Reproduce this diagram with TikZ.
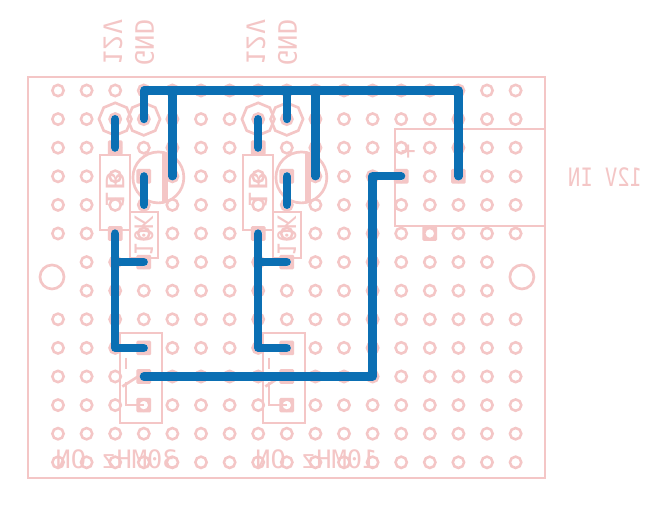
\documentclass[tikz,border=0pt]{standalone}
\usepackage{fontspec}
\setmainfont{DejaVu Sans Mono}
\usetikzlibrary{shapes.geometric}

\definecolor{silk}{HTML}{F4C6C6}
\definecolor{copper}{HTML}{0B6FB3}

\tikzset{
  silkline/.style={draw=silk, line width=2pt},
  hole/.style={circle, draw=silk, line width=1.9pt, fill=white, minimum size=8.5pt, inner sep=0pt},
  pad/.style={rectangle, rounded corners=1pt, fill=silk, minimum size=11pt, inner sep=0pt},
  octpad/.style={regular polygon, regular polygon sides=8, shape border rotate=22.5, draw=silk, line width=2pt, minimum size=24.4pt, inner sep=0pt},
  wire/.style={draw=copper, line width=6.2pt, line cap=round, line join=round},
  label/.style={text=silk, font=\fontsize{19}{19}\selectfont, inner sep=0pt}
}

\begin{document}
\begin{tikzpicture}[x=21.45pt, y=-21.45pt]
\useasboundingbox (-2.028,-3.164) rectangle (21.049,14.668);
\fill[white] (-2.028,-3.164) rectangle (21.049,14.668);

% board outline and mounting holes
\draw[silkline] (-1.05,-0.47) rectangle (17.03,13.55);
\node[circle, silkline, minimum size=18pt, inner sep=0pt] (mountl) at (-0.21,6.52) {};
\node[circle, silkline, minimum size=18pt, inner sep=0pt] (mountr) at (16.22,6.52) {};

% square pads
\foreach \c/\r in {2/2,2/5,3/3,3/6,3/9,3/10,3/11,7/2,7/5,8/3,8/6,8/9,8/10,8/11,12/3,14/3,13/5}
  \node[pad] (p\c-\r) at (\c,\r) {};

% hole grid
\foreach \r in {0,...,5,8,9,...,13}
  \foreach \c in {0,...,16}
    \node[hole] (h\c-\r) at (\c,\r) {};
\foreach \r in {6,7}
  \foreach \c in {1,...,15}
    \node[hole] (h\c-\r) at (\c,\r) {};

% 12V IN connector
\draw[silkline] (11.78,1.35) rectangle (17.03,4.74);
\node[label] (plus) at (12.25,2.16) {+};
\node[label] (minus) at (13.9,2.1) {-};
\node[label, xscale=-0.81] (input) at (19.13,3.03) {12V IN};

% the two channels
\foreach \dx/\f/\nm/\tx in {0/30/a/2.05, 5/10/b/4.03} {
  \begin{scope}[xshift=\dx*21.45pt]
  \node[octpad] (oct1\nm) at (2,1) {};
  \node[octpad] (oct2\nm) at (3,1) {};
  \draw[silkline] (1.47,2.26) rectangle (2.52,4.88);
  \draw[silkline] (2.52,4.25) rectangle (3.5,5.86);
  \draw[silkline] (3.51,3.04) circle (19.1pt);
  \draw[draw=silk, line width=4pt] (3.74,2.2) -- (3.74,3.85);
  \draw[silkline] (2.17,8.48) rectangle (3.64,11.63);
  \draw[silkline] (2.38,9.35) -- (2.38,9.75);
  \draw[silkline] (2.25,10.35) -- (2.8,10);
  \draw[silkline] (2.38,10.2) -- (2.38,11) -- (3,11);
  \node[label, rotate=90, yscale=-1] (volt\nm) at (1.92,-1.68) {12V};
  \node[label, rotate=90, yscale=-1] (gnd\nm) at (3.03,-1.68) {GND};
  \node[label, rotate=90, xscale=1.2, yscale=-1] (led\nm) at (2,3.51) {1B};
  \node[label, rotate=90, xscale=0.9, yscale=-1] (res\nm) at (3,5.09) {10K};
  \node[label, xscale=-1] (freq\nm) at (\tx,12.88) {\f MHz ON};
  \end{scope}
}

% copper wires
\draw[wire] (h3-1.center) -- (h3-0.center) -- (h14-0.center) -- (h14-3.center);
\foreach \a/\b/\d in {2/3/4, 7/8/9} {
  \draw[wire] (h\d-0.center) -- (h\d-3.center);
  \draw[wire] (h\a-1.center) -- (h\a-2.center);
  \draw[wire] (h\b-3.center) -- (h\b-4.center);
  \draw[wire] (h\a-5.center) -- (h\a-9.center) -- (h\b-9.center);
  \draw[wire] (h\a-6.center) -- (h\b-6.center);
}
\draw[wire] (h8-0.center) -- (h8-1.center);
\draw[wire] (h3-10.center) -- (h11-10.center) -- (h11-3.center) -- (h12-3.center);
\end{tikzpicture}
\end{document}
